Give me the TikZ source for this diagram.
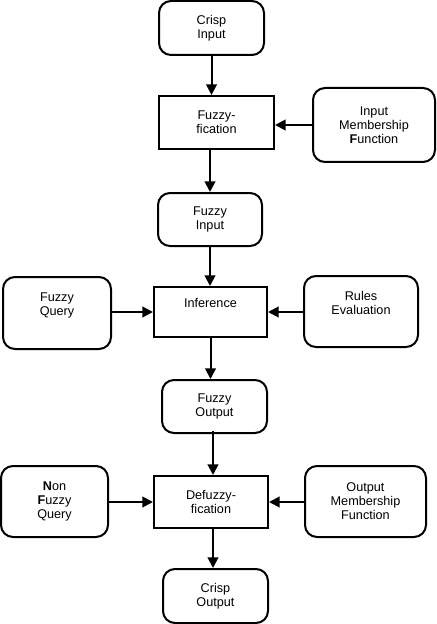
\documentclass[tikz,border=0pt]{standalone}
\usepackage{fontspec}
\setmainfont{Liberation Sans}
\usetikzlibrary{arrows.meta}

\tikzset{
  stage/.style={draw, line width=1.5pt, align=center, inner sep=0pt, font=\fontsize{9.5}{10.5}\selectfont},
  datum/.style={stage, rounded corners=9pt},
  flow/.style={line width=1.5pt, -{Triangle[length=8pt,width=8pt]}}
}

\begin{document}
\begin{tikzpicture}[x=0.75pt,y=0.75pt,yscale=-1,xscale=1]
\path[use as bounding box] (0,0) rectangle (436,624);

%Shape: Rounded Rect
\node[datum, minimum width=78.75pt, minimum height=40.5pt] (crispin) at (211.5,28) {Crisp\\Input};
%Shape: Rectangle
\node[stage, minimum width=86.25pt, minimum height=39.75pt] (fuzzif) at (216.5,122.5) {Fuzzy-\\fication};
%Shape: Rounded Rect
\node[datum, minimum width=91.5pt, minimum height=55.5pt] (inmf) at (374,125) {Input\\Membership\\\textbf{F}unction};
%Shape: Rounded Rect
\node[datum, minimum width=78pt, minimum height=39.75pt] (fuzzyin) at (210,219.5) {Fuzzy\\Input};
%Shape: Rectangle
\node[stage, minimum width=84.75pt, minimum height=37.5pt] (infer) at (210.5,312) {Inference\\[3pt]~};
%Shape: Rounded Rect
\node[datum, minimum width=81pt, minimum height=54pt] (fquery) at (57,313) {Fuzzy\\Query\\[3pt]~};
%Shape: Rounded Rect
\node[datum, minimum width=85.5pt, minimum height=53.25pt] (rules) at (361,311.5) {Rules\\Evaluation\\[3pt]~};
%Shape: Rounded Rect
\node[datum, minimum width=78.75pt, minimum height=39.75pt] (fuzzyout) at (214.5,406.5) {Fuzzy\\Output};
%Shape: Rectangle
\node[stage, minimum width=85.5pt, minimum height=39pt] (defuzz) at (211,502) {Defuzzy-\\fication};
%Shape: Rounded Rect
\node[datum, minimum width=80.25pt, minimum height=53.25pt] (nfquery) at (54.5,501.5) {\textbf{N}on\\\textbf{F}uzzy\\Query};
%Shape: Rounded Rect
\node[datum, minimum width=90.75pt, minimum height=53.25pt] (outmf) at (365.5,501.5) {Output\\Membership\\Function};
%Shape: Rounded Rect
\node[datum, minimum width=78.75pt, minimum height=40.5pt] (crispout) at (215.5,596) {Crisp\\Output};

%Straight Lines
\draw[flow] (crispin.south) -- (crispin.south |- fuzzif.north);
\draw[flow] (inmf.west) -- (inmf.west -| fuzzif.east);
\draw[flow] (fuzzif.south -| fuzzyin.north) -- (fuzzyin.north);
\draw[flow] (fuzzyin.south) -- (fuzzyin.south |- infer.north);
\draw[flow] (fquery.east |- infer.west) -- (infer.west);
\draw[flow] (rules.west |- infer.east) -- (infer.east);
\draw[flow] (infer.south) -- (infer.south |- fuzzyout.north);
\draw[flow] (defuzz.north -| 213,0) ++(0,-44) -- (defuzz.north -| 213,0);
\draw[flow] (nfquery.east |- defuzz.west) -- (defuzz.west);
\draw[flow] (outmf.west |- defuzz.east) -- (defuzz.east);
\draw[flow] (defuzz.south -| 213,0) -- (crispout.north -| 213,0);
\end{tikzpicture}
\end{document}
